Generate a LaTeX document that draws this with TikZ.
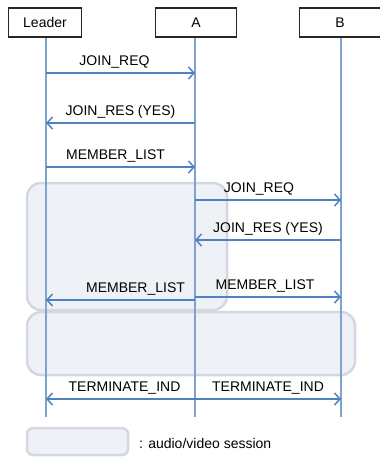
\documentclass[tikz,border=0pt]{standalone}
\usepackage{fontspec}
\setmainfont{Liberation Sans}
\usetikzlibrary{arrows.meta, positioning}

\definecolor{vida}{HTML}{7FA2D0}
\definecolor{mensaje}{HTML}{4F81BD}
\definecolor{sesionfondo}{HTML}{EEF1F6}
\definecolor{sesionborde}{HTML}{D3D8DF}

\begin{document}
\begin{tikzpicture}[
    x=1pt, y=-1pt,
    >={Straight Barb[length=5.5pt, width=12pt, line width=1.5pt]},
    every node/.style={font=\fontsize{14}{16}\selectfont},
    actor/.style={draw=black!85, line width=1.1pt, minimum height=29pt, inner sep=0pt},
    linea vida/.style={draw=vida, line width=1.3pt},
    mensaje/.style={draw=mensaje, line width=1.4pt, ->},
    etiqueta/.style={anchor=base, yshift=8pt, inner sep=0pt},
    sesion/.style={draw=sesionborde, fill=sesionfondo, line width=2.5pt, rounded corners=14pt}
]
\useasboundingbox (0,0) rectangle (380,458);

% ---- Sesiones de audio/video (fondo) ----
\draw[sesion] (27,183) rectangle (227,310);
\draw[sesion] (27,312) rectangle (355,375);

% ---- Participantes ----
\node[actor, minimum width=73pt] (leader) at (45,22.5) {Leader};
\node[actor, minimum width=81pt] (a) at (196,22.5) {A};
\node[actor, minimum width=81pt] (b) at (340,22.5) {B};

% ---- Lineas de vida ----
\coordinate (leader fin) at (46,417);
\coordinate (a fin) at (195,417);
\coordinate (b fin) at (341,417);
\draw[linea vida] (leader.south -| leader fin) -- (leader fin);
\draw[linea vida] (a.south -| a fin) -- (a fin);
\draw[linea vida] (b.south -| b fin) -- (b fin);

% ---- Mensajes Leader <-> A ----
\draw[mensaje] (leader fin |- 0,73) -- node[etiqueta, xshift=-6pt] {JOIN\_REQ} (a fin |- 0,73);
\draw[mensaje] (a fin |- 0,123) -- node[etiqueta] {JOIN\_RES (YES)} (leader fin |- 0,123);
\draw[mensaje] (leader fin |- 0,167) -- node[etiqueta, xshift=-5pt] {MEMBER\_LIST} (a fin |- 0,167);

% ---- Mensajes A <-> B ----
\draw[mensaje] (a fin |- 0,200) -- node[etiqueta, xshift=-9pt] {JOIN\_REQ} (b fin |- 0,200);
\draw[mensaje] (b fin |- 0,240) -- node[etiqueta] {JOIN\_RES (YES)} (a fin |- 0,240);

% ---- MEMBER_LIST hacia ambos lados ----
\draw[mensaje] (a fin |- 0,300) -- node[etiqueta, xshift=15pt] {MEMBER\_LIST} (leader fin |- 0,300);
\draw[mensaje] (a fin |- 0,297) -- node[etiqueta, xshift=-3pt] {MEMBER\_LIST} (b fin |- 0,297);

% ---- TERMINATE_IND ----
\draw[mensaje] (a fin |- 0,399) -- node[etiqueta, xshift=4pt] {TERMINATE\_IND} (leader fin |- 0,399);
\draw[mensaje] (a fin |- 0,399) -- node[etiqueta] {TERMINATE\_IND} (b fin |- 0,399);

% ---- Leyenda ----
\draw[sesion, rounded corners=6pt] (27,428) rectangle (128,455);
\node[anchor=west, inner sep=0pt] (leyenda) at (139,443) {: audio/video session};

\end{tikzpicture}
\end{document}
